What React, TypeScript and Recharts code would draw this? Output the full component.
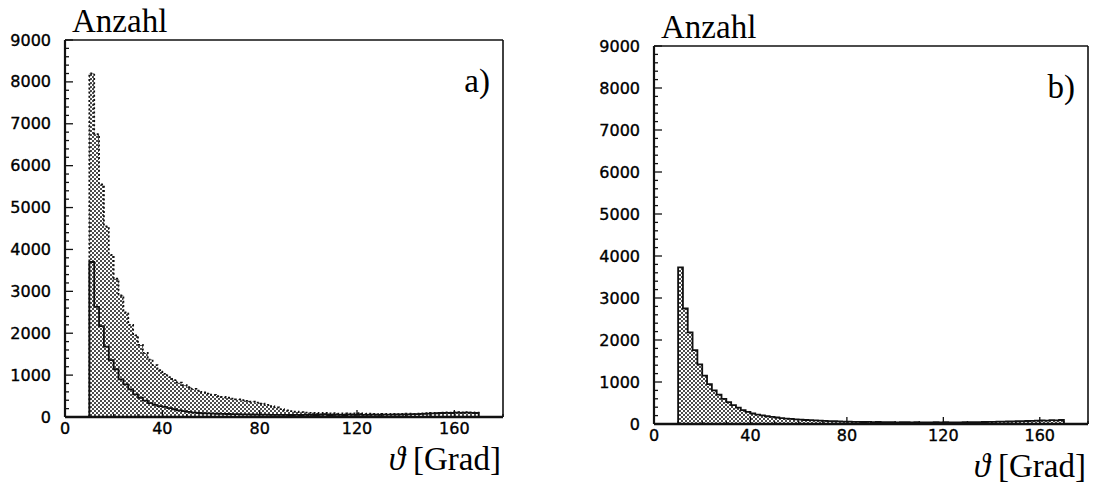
import React from 'react';
import { ComposedChart, Area, Line, XAxis, YAxis, ReferenceLine } from 'recharts';

// theta bins, 2 degrees wide, left edges 10 ... 168
const dottedA = [
  8200, 6750, 5550, 4550, 3870, 3300, 2900, 2500, 2200, 1950,
  1720, 1530, 1370, 1240, 1120, 1030, 950, 880, 820, 760,
  710, 670, 630, 590, 560, 530, 500, 480, 460, 440,
  420, 400, 385, 365, 345, 320, 290, 260, 230, 190,
  160, 140, 125, 115, 105, 100, 95, 90, 95, 85,
  90, 80, 85, 80, 85, 90, 75, 80, 75, 70,
  75, 70, 75, 70, 75, 80, 75, 80, 85, 90,
  95, 100, 105, 110, 105, 115, 110, 115, 110, 105,
];
const solidA = [
  3700, 2630, 2170, 1680, 1360, 1140, 900, 780, 660, 540,
  460, 390, 330, 290, 260, 240, 210, 185, 160, 140,
  120, 105, 95, 90, 85, 80, 78, 75, 72, 70,
  68, 65, 62, 60, 58, 55, 55, 52, 50, 52,
  50, 48, 50, 48, 50, 52, 48, 50, 55, 48,
  50, 52, 48, 55, 50, 60, 52, 50, 55, 52,
  55, 58, 55, 60, 62, 65, 68, 70, 75, 80,
  85, 90, 95, 100, 95, 105, 100, 105, 100, 95,
];
const solidB = [
  3730, 2750, 2180, 1760, 1420, 1150, 950, 800, 700, 600,
  520, 450, 390, 330, 290, 250, 225, 205, 185, 170,
  155, 140, 130, 120, 110, 105, 95, 90, 85, 80,
  75, 70, 65, 62, 58, 55, 52, 50, 48, 50,
  45, 48, 45, 42, 45, 40, 42, 45, 40, 42,
  40, 38, 40, 42, 40, 45, 40, 38, 40, 42,
  45, 42, 45, 48, 50, 52, 55, 58, 60, 62,
  65, 70, 72, 75, 80, 85, 80, 90, 85, 95,
];

const binLow = 10;
const binWidth = 2;
const xTicks = [0, 10, 20, 30, 40, 50, 60, 70, 80, 90, 100, 110, 120, 130, 140, 150, 160, 170, 180];
const xLabels = [0, 40, 80, 120, 160];
const yTicks = Array.from({ length: 46 }, (_, i) => i * 200);
const yLabels = [0, 1000, 2000, 3000, 4000, 5000, 6000, 7000, 8000, 9000];

// rows for step histograms: a zero at the first edge, one point per bin, zero at the last edge
function histRows(series: Record<string, number[]>) {
  const keys = Object.keys(series);
  const n = series[keys[0]].length;
  const zero = (x: number) => {
    const r: any = { x };
    keys.forEach((k) => (r[k] = 0));
    return r;
  };
  const rows = [zero(binLow)];
  for (let i = 0; i < n; i++) {
    const r: any = { x: binLow + i * binWidth };
    keys.forEach((k) => (r[k] = series[k][i]));
    rows.push(r);
  }
  rows.push(zero(binLow + n * binWidth));
  return rows;
}

const rowsA = histRows({ dot: dottedA, solid: solidA });
const rowsB = histRows({ solid: solidB });

const tickStyle = { fontFamily: "'DejaVu Sans', sans-serif", fontSize: 16 };
const labelStyle = {
  fontFamily: "'Liberation Serif', 'Times New Roman', 'DejaVu Serif', 'Noto Serif', serif",
  fontSize: 33,
};

function YTick({ x, y, payload }: any) {
  const major = yLabels.includes(payload.value);
  return (
    <g>
      <line x1={x} y1={y} x2={x + (major ? 8 : 4)} y2={y} stroke="#111" strokeWidth={1.3} />
      {major && (
        <text x={x - 14} y={y} textAnchor="end" dominantBaseline="central" fill="#000" stroke="#000" strokeWidth={0.35} style={tickStyle}>
          {payload.value}
        </text>
      )}
    </g>
  );
}

function XTick({ x, y, payload }: any) {
  const major = xLabels.includes(payload.value);
  return (
    <g>
      <line x1={x} y1={y} x2={x} y2={y - (major ? 7 : 3)} stroke="#111" strokeWidth={1.3} />
      {major && (
        <text x={x} y={y + 17} textAnchor="middle" fill="#000" stroke="#000" strokeWidth={0.35} style={tickStyle}>
          {payload.value}
        </text>
      )}
    </g>
  );
}

function Dots({ id }: { id: string }) {
  return (
    <defs>
      <pattern id={id} width={4} height={4} patternUnits="userSpaceOnUse">
        <circle cx={1} cy={1} r={0.95} fill="#000" />
        <circle cx={3} cy={3} r={0.95} fill="#000" />
      </pattern>
    </defs>
  );
}

function Panel({
  rows, width, axisW, right, top, axisH, tag, dotted,
}: {
  rows: any[]; width: number; axisW: number; right: number; top: number; axisH: number; tag: string; dotted: boolean;
}) {
  const pid = `dots-${tag}`;
  const plotRight = width - right;
  const plotBottom = 486 - axisH;
  return (
    <ComposedChart width={width} height={486} data={rows} margin={{ top, right, bottom: 0, left: 0 }}>
      <Dots id={pid} />
      <XAxis
        dataKey="x"
        type="number"
        domain={[0, 180]}
        ticks={xTicks}
        interval={0}
        height={axisH}
        tickSize={0}
        tickMargin={0}
        tickLine={false}
        axisLine={{ stroke: '#111', strokeWidth: 2.6 }}
        tick={<XTick />}
      />
      <YAxis
        type="number"
        domain={[0, 9000]}
        ticks={yTicks}
        interval={0}
        width={axisW}
        tickSize={0}
        tickMargin={0}
        tickLine={false}
        axisLine={{ stroke: '#111', strokeWidth: 2.2 }}
        tick={<YTick />}
      />
      <ReferenceLine y={9000} stroke="#111" strokeWidth={1.6} />
      <ReferenceLine x={180} stroke="#111" strokeWidth={1.6} />
      {dotted ? (
        <Area
          dataKey="dot"
          type="stepAfter"
          stroke="#111"
          strokeWidth={1.8}
          strokeDasharray="2 2.2"
          fill={`url(#${pid})`}
          fillOpacity={1}
          isAnimationActive={false}
          dot={false}
          activeDot={false}
        />
      ) : (
        <Area
          dataKey="solid"
          type="stepAfter"
          stroke="#111"
          strokeWidth={1.8}
          fill={`url(#${pid})`}
          fillOpacity={1}
          isAnimationActive={false}
          dot={false}
          activeDot={false}
        />
      )}
      {dotted && (
        <Line
          dataKey="solid"
          type="stepAfter"
          stroke="#111"
          strokeWidth={1.8}
          isAnimationActive={false}
          dot={false}
          activeDot={false}
        />
      )}
      <text x={axisW + 7} y={top - 8} fill="#000" style={labelStyle}>Anzahl</text>
      <text x={plotRight - 13} y={top + 52} textAnchor="end" fill="#000" style={labelStyle}>{tag})</text>
      <text x={plotRight - 2} y={plotBottom + 53} textAnchor="end" fill="#000" style={labelStyle}>
        <tspan fontStyle="italic">ϑ</tspan>
        <tspan dx={8}>[Grad]</tspan>
      </text>
    </ComposedChart>
  );
}

export default function App() {
  return (
    <div style={{ position: 'absolute', left: 0, top: 0, width: 1094, height: 486, background: '#fff' }}>
      <div style={{ position: 'absolute', left: 0, top: 0 }}>
        <Panel rows={rowsA} width={545} axisW={65} right={42} top={40} axisH={69} tag="a" dotted />
      </div>
      <div style={{ position: 'absolute', left: 545, top: 0 }}>
        <Panel rows={rowsB} width={549} axisW={109} right={6} top={46} axisH={62} tag="b" dotted={false} />
      </div>
    </div>
  );
}
